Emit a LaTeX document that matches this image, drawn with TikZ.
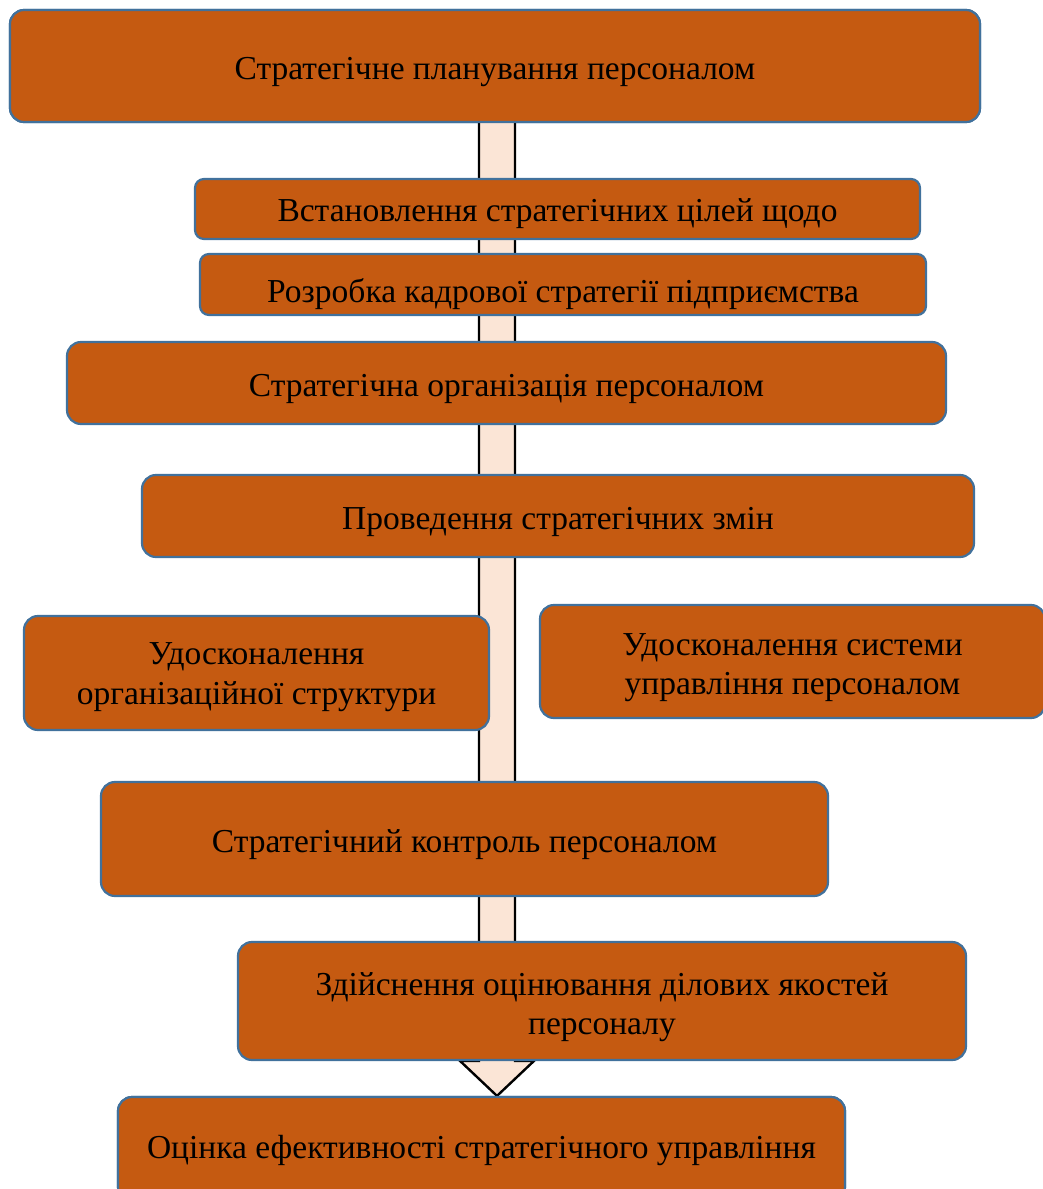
\documentclass[tikz,border=0pt]{standalone}
\usepackage{fontspec}
\setmainfont{Liberation Serif}
\usetikzlibrary{calc}
\definecolor{boxfill}{HTML}{C55A11}
\definecolor{boxline}{HTML}{41719C}
\definecolor{arrowfill}{HTML}{FBE5D6}
\tikzset{
  box/.style={draw=boxline, line width=2.2pt, fill=boxfill, rounded corners=14pt, inner sep=0pt},
  thinbox/.style={box, rounded corners=9pt},
  lbl/.style={font=\fontsize{33.5}{39.5}\selectfont, text=black, align=center, inner sep=0pt},
  blockarrow/.style={draw=black, line width=2.4pt, fill=arrowfill, line join=miter}
}
\begin{document}
\begin{tikzpicture}[x=1pt,y=-1pt]
\useasboundingbox (0,0) rectangle (1043,1189);
\clip (0,0) rectangle (1043,1189);
% end boxes first, to place the block arrow between them
\node[box, minimum width=970pt, minimum height=112pt] (n1) at (495,66) {};
\node[box, minimum width=727pt, minimum height=104pt] (n10) at (481.5,1149) {};
% block arrow (behind all boxes)
\coordinate (tip) at ($(n10.north)+(15.5,0)$);
\draw[blockarrow] ($(n1.south)+(-16,0)$) -- ($(tip)+(-18,-35)$) -- ($(tip)+(-37,-35)$) -- (tip)
  -- ($(tip)+(37,-35)$) -- ($(tip)+(18,-35)$) -- ($(n1.south)+(20,0)$);
% boxes with texts
\node[box, minimum width=970pt, minimum height=112pt,
  label={[lbl, yshift=-6pt]center:Стратегічне планування персоналом}] at (n1) {};
\node[thinbox, minimum width=725pt, minimum height=60pt,
  label={[lbl, yshift=-5pt]center:Встановлення стратегічних цілей щодо}] (n2) at (557.5,209) {};
\node[thinbox, minimum width=726pt, minimum height=61pt,
  label={[lbl, yshift=-10pt]center:Розробка кадрової стратегії підприємства}] (n3) at (563,284.5) {};
\node[box, minimum width=879pt, minimum height=82pt,
  label={[lbl, yshift=-6pt]center:Стратегічна організація персоналом}] (n4) at (506.5,383) {};
\node[box, minimum width=832pt, minimum height=82pt,
  label={[lbl, yshift=-6pt]center:Проведення стратегічних змін}] (n5) at (558,516) {};
\node[box, minimum width=465pt, minimum height=114pt,
  label={[lbl, yshift=-4pt]center:Удосконалення\\організаційної структури}] (n6) at (256.5,673) {};
\node[box, minimum width=505pt, minimum height=113pt,
  label={[lbl, yshift=-6pt]center:Удосконалення системи\\управління персоналом}] (n7) at (792.5,661.5) {};
\node[box, minimum width=727pt, minimum height=114pt,
  label={[lbl, yshift=-6pt]center:Стратегічний контроль персоналом}] (n8) at (464.5,839) {};
\node[box, minimum width=728pt, minimum height=118pt,
  label={[lbl, yshift=-6pt]center:Здійснення оцінювання ділових якостей\\персоналу}] (n9) at (602,1001) {};
\node[box, minimum width=727pt, minimum height=104pt,
  label={[lbl, yshift=-1pt]center:Оцінка ефективності стратегічного управління}] at (n10) {};
\end{tikzpicture}
\end{document}
